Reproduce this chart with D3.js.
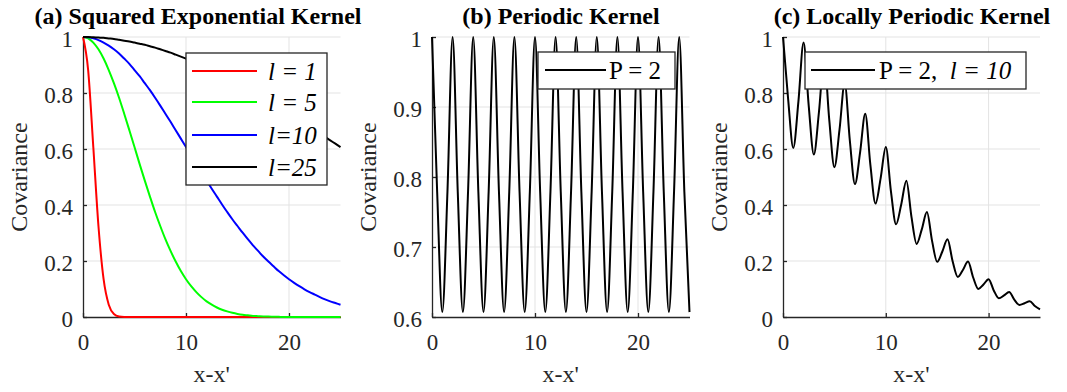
<!DOCTYPE html>
<html lang="en">

<head>
    <meta charset="UTF-8" />
    <title>Kernel covariance</title>
    <script src="https://cdnjs.cloudflare.com/ajax/libs/d3/7.8.5/d3.min.js"></script>
    <style>
        body {
            margin: 0;
            background: #fff;
        }

        svg text {
            fill: #262626;
            white-space: pre;
        }

        .tick text {
            font-size: 23px;
        }

        .axis path,
        .axis line {
            stroke: #262626;
            stroke-width: 1.3;
        }

        .grid line {
            stroke: #e3e3e3;
            stroke-width: 1;
        }

        .title {
            font-size: 24px;
            font-weight: bold;
            fill: #000;
        }

        .axis-label {
            font-size: 24px;
        }

        .legend-text {
            font-size: 25px;
            fill: #000;
        }
    </style>
</head>

<body>
    <svg id="chart" width="1067" height="392"></svg>

    <script>
        // sample positions along x-x'
        const xs = [0, 0.5, 1, 1.5, 2, 2.5, 3, 3.5, 4, 4.5, 5, 5.5, 6, 6.5, 7, 7.5, 8, 8.5, 9, 9.5,
            10, 10.5, 11, 11.5, 12, 12.5, 13, 13.5, 14, 14.5, 15, 15.5, 16, 16.5, 17, 17.5, 18, 18.5, 19, 19.5,
            20, 20.5, 21, 21.5, 22, 22.5, 23, 23.5, 24, 24.5, 25];

        // (a) squared exponential
        const seL1 = [1, 0.882, 0.607, 0.325, 0.135, 0.044, 0.011, 0.002, 0.0003, 0, 0, 0, 0, 0, 0, 0, 0, 0, 0, 0,
            0, 0, 0, 0, 0, 0, 0, 0, 0, 0, 0, 0, 0, 0, 0, 0, 0, 0, 0, 0,
            0, 0, 0, 0, 0, 0, 0, 0, 0, 0, 0];
        const seL5 = [1, 0.995, 0.980, 0.956, 0.923, 0.882, 0.835, 0.783, 0.726, 0.667, 0.607, 0.546, 0.487, 0.430, 0.375, 0.325, 0.278, 0.236, 0.198, 0.164,
            0.135, 0.110, 0.089, 0.071, 0.056, 0.044, 0.034, 0.026, 0.020, 0.015, 0.011, 0.008, 0.006, 0.004, 0.003, 0.002, 0.0015, 0.001, 0.0007, 0,
            0, 0, 0, 0, 0, 0, 0, 0, 0, 0, 0];
        const seL10 = [1, 0.999, 0.995, 0.989, 0.980, 0.969, 0.956, 0.941, 0.923, 0.904, 0.882, 0.860, 0.835, 0.810, 0.783, 0.755, 0.726, 0.697, 0.667, 0.637,
            0.607, 0.576, 0.546, 0.516, 0.487, 0.458, 0.430, 0.402, 0.375, 0.349, 0.325, 0.301, 0.278, 0.256, 0.236, 0.216, 0.198, 0.181, 0.164, 0.149,
            0.135, 0.122, 0.110, 0.099, 0.089, 0.080, 0.071, 0.063, 0.056, 0.050, 0.044];
        const seL25 = [1, 1.000, 0.999, 0.998, 0.997, 0.995, 0.993, 0.990, 0.987, 0.984, 0.980, 0.976, 0.972, 0.967, 0.962, 0.956, 0.950, 0.944, 0.937, 0.930,
            0.923, 0.916, 0.908, 0.900, 0.891, 0.882, 0.874, 0.864, 0.855, 0.845, 0.835, 0.825, 0.815, 0.804, 0.794, 0.783, 0.772, 0.761, 0.749, 0.738,
            0.726, 0.714, 0.703, 0.691, 0.679, 0.667, 0.655, 0.643, 0.631, 0.619, 0.607];
        const seLabels = ["l = 1", "l = 5", "l=10", "l=25"];
        const seColors = ["#ff0000", "#00ff00", "#0000ff", "#000000"];

        // (b) periodic, P = 2
        const periodic = [1, 0.779, 0.607, 0.779, 1, 0.779, 0.607, 0.779, 1, 0.779, 0.607, 0.779, 1, 0.779, 0.607, 0.779, 1, 0.779, 0.607, 0.779,
            1, 0.779, 0.607, 0.779, 1, 0.779, 0.607, 0.779, 1, 0.779, 0.607, 0.779, 1, 0.779, 0.607, 0.779, 1, 0.779, 0.607, 0.779,
            1, 0.779, 0.607, 0.779, 1, 0.779, 0.607, 0.779, 1, 0.779, 0.607];

        // (c) locally periodic, P = 2, l = 10
        const locPeriodic = [1, 0.778, 0.604, 0.770, 0.980, 0.755, 0.580, 0.733, 0.923, 0.704, 0.535, 0.670, 0.835, 0.631, 0.475, 0.588, 0.726, 0.543, 0.405, 0.496,
            0.607, 0.449, 0.331, 0.402, 0.487, 0.357, 0.261, 0.313, 0.375, 0.272, 0.197, 0.234, 0.278, 0.199, 0.143, 0.168, 0.198, 0.141, 0.100, 0.116,
            0.135, 0.095, 0.067, 0.077, 0.089, 0.062, 0.043, 0.049, 0.056, 0.039, 0.027];

        const xTicks = [0, 10, 20];
        const yTicksUnit = [0, 0.2, 0.4, 0.6, 0.8, 1];
        const yTicksPeriodic = [0.6, 0.7, 0.8, 0.9, 1];

        const serif = "'Liberation Serif', 'DejaVu Serif', 'Times New Roman', serif";

        const svg = d3.select("#chart");
        const plotTop = 37, plotBottom = 317;

        const panels = [
            {
                left: 83, right: 340.5, yDomain: [0, 1], yTicks: yTicksUnit,
                title: "(a) Squared Exponential Kernel", titleX: 198,
                series: [seL1, seL5, seL10, seL25].map((v, i) => ({ values: v, color: seColors[i] })),
                legend: {
                    x: 186, y: 53, w: 141, h: 132, lineX: [192, 257], textX: 268, rowY: [71, 102, 135, 167],
                    items: seLabels.map((t, i) => ({ color: seColors[i], parts: [{ t, italic: true }] }))
                }
            },
            {
                left: 432, right: 689.5, yDomain: [0.6, 1], yTicks: yTicksPeriodic,
                title: "(b) Periodic Kernel", titleX: 561,
                series: [{ values: periodic, color: "#000" }],
                legend: {
                    x: 538, y: 52, w: 137, h: 37, lineX: [545, 606], textX: 609, rowY: [70],
                    items: [{ color: "#000", parts: [{ t: "P = 2", italic: false }] }]
                }
            },
            {
                left: 783, right: 1040, yDomain: [0, 1], yTicks: yTicksUnit,
                title: "(c) Locally Periodic Kernel", titleX: 912,
                series: [{ values: locPeriodic, color: "#000" }],
                legend: {
                    x: 805, y: 52, w: 221, h: 37, lineX: [811, 875], textX: 879, rowY: [70],
                    items: [{ color: "#000", parts: [{ t: "P = 2,  ", italic: false }, { t: "l = 10", italic: true }] }]
                }
            }
        ];

        panels.forEach(p => drawPanel(p));

        svg.selectAll("text").style("font-family", serif);

        function drawPanel(p) {
            const x = d3.scaleLinear().domain([0, 25]).range([p.left, p.right]);
            const y = d3.scaleLinear().domain(p.yDomain).range([plotBottom, plotTop]);
            const g = svg.append("g");

            // grid
            const grid = g.append("g").attr("class", "grid");
            grid.selectAll("line.h")
                .data(p.yTicks.slice(1))
                .join("line")
                .attr("class", "h")
                .attr("x1", p.left).attr("x2", p.right)
                .attr("y1", d => y(d)).attr("y2", d => y(d));
            grid.selectAll("line.v")
                .data(xTicks.slice(1))
                .join("line")
                .attr("class", "v")
                .attr("x1", d => x(d)).attr("x2", d => x(d))
                .attr("y1", plotTop).attr("y2", plotBottom);

            // axes (ticks point inward)
            g.append("g")
                .attr("class", "axis")
                .attr("transform", `translate(0,${plotBottom})`)
                .call(d3.axisBottom(x).tickValues(xTicks).tickSize(-4).tickSizeOuter(0).tickPadding(17).tickFormat(d3.format("d")));

            g.append("g")
                .attr("class", "axis")
                .attr("transform", `translate(${p.left},0)`)
                .call(d3.axisLeft(y).tickValues(p.yTicks).tickSize(-4).tickSizeOuter(0).tickPadding(10).tickFormat(d => d3.format("~g")(d)))
                .selectAll("text").attr("dy", "0.4em");

            g.selectAll(".axis").attr("font-family", null).attr("font-size", null);
            g.selectAll(".axis text").attr("fill", "#262626");

            // data lines
            const line = d3.line()
                .x((d, i) => x(xs[i]))
                .y(d => y(d))
                .curve(d3.curveMonotoneX);

            g.append("g")
                .selectAll("path")
                .data(p.series)
                .join("path")
                .attr("d", d => line(d.values))
                .attr("fill", "none")
                .attr("stroke", d => d.color)
                .attr("stroke-width", 2);

            // labels
            g.append("text")
                .attr("class", "title")
                .attr("x", p.titleX)
                .attr("y", 24)
                .attr("text-anchor", "middle")
                .text(p.title);

            g.append("text")
                .attr("class", "axis-label")
                .attr("x", (p.left + p.right) / 2)
                .attr("y", 382)
                .attr("text-anchor", "middle")
                .text("x-x'");

            g.append("text")
                .attr("class", "axis-label")
                .attr("transform", `translate(${p.left - 56},${(plotTop + plotBottom) / 2}) rotate(-90)`)
                .attr("text-anchor", "middle")
                .text("Covariance");

            // legend
            const L = p.legend;
            const lg = g.append("g");
            lg.append("rect")
                .attr("x", L.x).attr("y", L.y)
                .attr("width", L.w).attr("height", L.h)
                .attr("fill", "#fff")
                .attr("stroke", "#262626")
                .attr("stroke-width", 1.3);

            L.items.forEach((item, i) => {
                lg.append("line")
                    .attr("x1", L.lineX[0]).attr("x2", L.lineX[1])
                    .attr("y1", L.rowY[i]).attr("y2", L.rowY[i])
                    .attr("stroke", item.color)
                    .attr("stroke-width", 2);
                const t = lg.append("text")
                    .attr("class", "legend-text")
                    .attr("x", L.textX)
                    .attr("y", L.rowY[i] + 9);
                item.parts.forEach(part => {
                    t.append("tspan")
                        .attr("font-style", part.italic ? "italic" : "normal")
                        .text(part.t);
                });
            });
        }
    </script>
</body>

</html>
